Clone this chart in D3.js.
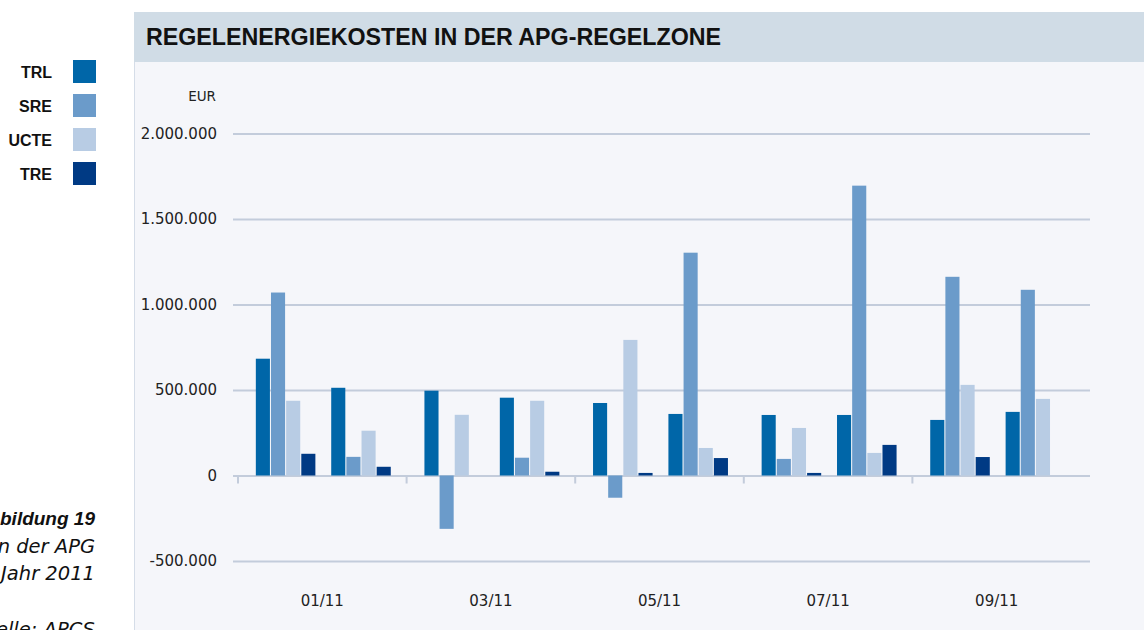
<!DOCTYPE html>
<html>
<head>
<meta charset="utf-8">
<script src="https://cdn.jsdelivr.net/npm/d3@7"></script>
<style>
  body { margin: 0; background: #fff; }
  svg { display: block; }
</style>
</head>
<body>
<svg class="chart"></svg>
<script>
// months and the labels shown on the axis (one per two months)
const months = ["01/11", "02/11", "03/11", "04/11", "05/11", "06/11", "07/11", "08/11", "09/11", "10/11"];
const pairLabels = ["01/11", "03/11", "05/11", "07/11", "09/11"];
const series = ["TRL", "SRE", "UCTE", "TRE"];
const colors = ["#0066a8", "#6b9bca", "#b8cce4", "#003a84"];

// costs in EUR
const trl = [683000, 513000, 496000, 455000, 424000, 360000, 354000, 354000, 325000, 372000];
const sre = [1070000, 109000, -312000, 104000, -130000, 1303000, 97000, 1695000, 1162000, 1086000];
const ucte = [437000, 262000, 355000, 437000, 793000, 161000, 278000, 132000, 530000, 448000];
const tre = [127000, 51000, 0, 22000, 15000, 102000, 15000, 179000, 108000, 0];
const yTicks = [-500000, 0, 500000, 1000000, 1500000, 2000000];

const caption = ["Abbildung 19", "Regelenergiekosten in der APG", "Regelzone im Jahr 2011", "", "Quelle: APCS"];

const width = 1144, height = 630;
const svg = d3.select(".chart")
    .attr("width", width)
    .attr("height", height);

// panel background + title band
svg.append("rect").attr("x", 135).attr("y", 12).attr("width", width - 135).attr("height", height - 12).attr("fill", "#f5f6fa");
svg.append("rect").attr("x", 134).attr("y", 12).attr("width", width - 134).attr("height", 50).attr("fill", "#d0dce6");
svg.append("line").attr("x1", 134.5).attr("x2", 134.5).attr("y1", 62).attr("y2", height)
    .attr("stroke", "#d5dde8").attr("stroke-width", 1);

svg.append("text")
    .attr("x", 146)
    .attr("y", 45)
    .attr("textLength", 575)
    .attr("lengthAdjust", "spacingAndGlyphs")
    .attr("font-family", "'Liberation Sans Narrow', 'Liberation Sans', sans-serif")
    .attr("font-weight", "bold")
    .attr("font-size", 24)
    .attr("fill", "#111")
    .text("REGELENERGIEKOSTEN IN DER APG-REGELZONE");

// scales
const y = d3.scaleLinear()
    .domain([-500000, 2000000])
    .range([561, 133.5]);

const x0 = d3.scaleBand()
    .domain(pairLabels)
    .range([238, 1081]);

const x1 = d3.scaleBand()
    .domain([0, 1])
    .range([2, x0.bandwidth()])
    .paddingInner(0.21)
    .paddingOuter(0.21);

const x2 = d3.scaleBand()
    .domain(series)
    .range([0, x1.bandwidth()])
    .paddingInner(0.07);

const de = d3.formatLocale({ decimal: ",", thousands: ".", grouping: [3], currency: ["", " €"], minus: "-" });
const fmt = de.format(",");

// y axis with gridlines
const yAxis = svg.append("g")
    .attr("transform", "translate(233,0)")
    .call(d3.axisLeft(y).tickValues(yTicks).tickSize(-(1090 - 233)).tickPadding(16).tickFormat(fmt));
yAxis.select(".domain").remove();
yAxis.selectAll("line").attr("stroke", "#c3ccdb").attr("stroke-width", 2);
yAxis.selectAll("text")
    .attr("font-family", "'DejaVu Sans', sans-serif")
    .attr("font-size", 15)
    .attr("fill", "#222");

svg.append("text")
    .attr("x", 216)
    .attr("y", 101)
    .attr("text-anchor", "end")
    .attr("font-family", "'DejaVu Sans', sans-serif")
    .attr("font-size", 13.5)
    .attr("fill", "#222")
    .text("EUR");

// x axis: labels centred on each pair of months, ticks between pairs
const xAxis = svg.append("g")
    .attr("transform", "translate(0,595)")
    .call(d3.axisBottom(x0).tickSize(0).tickPadding(0));
xAxis.select(".domain").remove();
xAxis.selectAll("text")
    .attr("font-family", "'DejaVu Sans', sans-serif")
    .attr("font-size", 15)
    .attr("fill", "#222");

svg.append("g").selectAll("line")
    .data(pairLabels)
    .enter()
    .append("line")
    .attr("x1", d => x0(d))
    .attr("x2", d => x0(d))
    .attr("y1", y(0))
    .attr("y2", y(0) + 8)
    .attr("stroke", "#c3ccdb")
    .attr("stroke-width", 2);

// bars
const values = [trl, sre, ucte, tre];
const barData = [];
months.forEach((m, i) => {
    series.forEach((s, j) => {
        barData.push({ month: i, series: s, color: colors[j], value: values[j][i] });
    });
});

svg.append("g").selectAll("rect")
    .data(barData)
    .enter()
    .append("rect")
    .attr("x", d => x0(pairLabels[Math.floor(d.month / 2)]) + x1(d.month % 2) + x2(d.series))
    .attr("y", d => y(Math.max(0, d.value)))
    .attr("width", x2.bandwidth())
    .attr("height", d => Math.abs(y(d.value) - y(0)))
    .attr("fill", d => d.color);

// legend on the left
const legend = svg.append("g").selectAll("g")
    .data(series)
    .enter()
    .append("g")
    .attr("transform", (d, i) => "translate(0," + (60 + i * 34) + ")");

legend.append("rect")
    .attr("x", 73)
    .attr("width", 23)
    .attr("height", 23)
    .attr("fill", (d, i) => colors[i]);

legend.append("text")
    .attr("x", 52)
    .attr("y", 18)
    .attr("text-anchor", "end")
    .attr("font-family", "'Liberation Sans', Arial, sans-serif")
    .attr("font-weight", "bold")
    .attr("font-size", 16)
    .attr("fill", "#111")
    .text(d => d);

// figure caption, partly cut off at the left edge like in the source page
svg.append("g").selectAll("text")
    .data(caption)
    .enter()
    .append("text")
    .attr("x", 95)
    .attr("y", (d, i) => 525 + i * 27.7)
    .attr("text-anchor", "end")
    .attr("font-family", (d, i) => i === 0 ? "'Liberation Sans', Arial, sans-serif" : "'DejaVu Sans', sans-serif")
    .attr("font-style", "italic")
    .attr("font-weight", (d, i) => i === 0 ? "bold" : "normal")
    .attr("font-size", (d, i) => i === 0 ? 19 : 19.5)
    .attr("fill", "#111")
    .text(d => d);
</script>
</body>
</html>
